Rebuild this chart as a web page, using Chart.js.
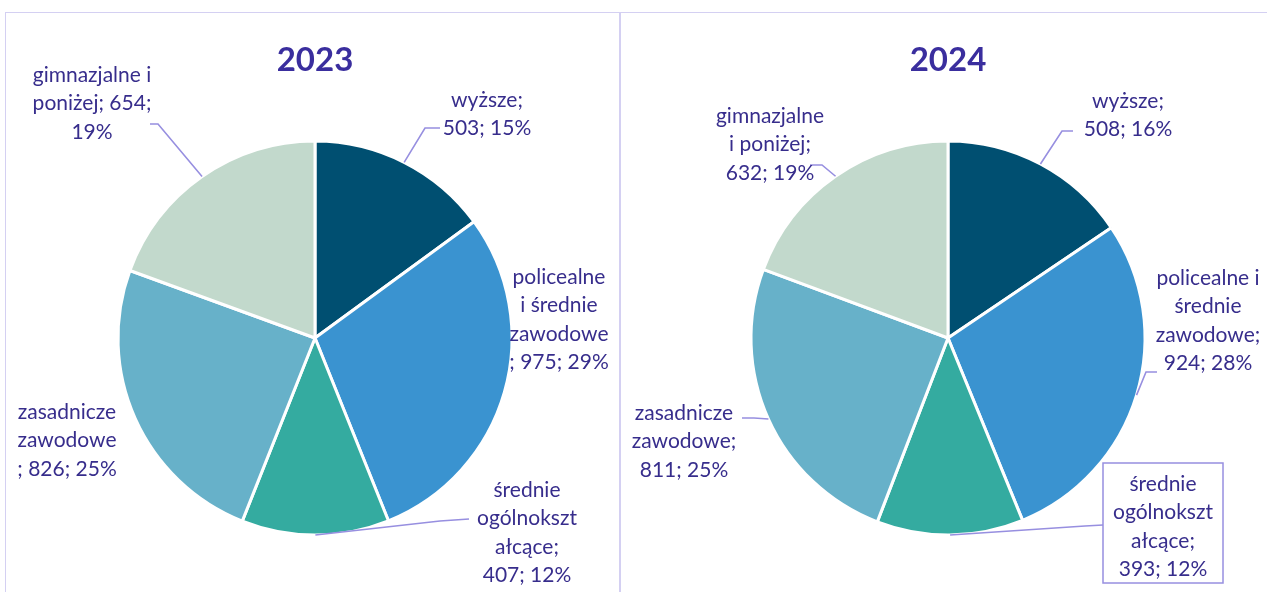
<!DOCTYPE html>
<html>
<head>
<meta charset="utf-8">
<script src="https://cdn.jsdelivr.net/npm/chart.js@4"></script>
<style>
  html, body { margin: 0; padding: 0; background: #fff; width: 1267px; height: 592px; overflow: hidden; }
  .panel { position: absolute; top: 12px; border: 1.5px solid #d4d0f2; box-sizing: border-box; height: 640px; }
  #p1 { left: 5px; width: 616px; }
  #p2 { left: 619px; width: 700px; }
  canvas { position: absolute; }
</style>
</head>
<body>
<div class="panel" id="p1"></div>
<div class="panel" id="p2"></div>
<canvas id="c2023" width="612" height="578" style="left:7px;top:14px"></canvas>
<canvas id="c2024" width="646" height="578" style="left:621px;top:14px"></canvas>
<script>
// dane
const categories = ['wyższe', 'policealne i średnie zawodowe', 'średnie ogólnokształcące', 'zasadnicze zawodowe', 'gimnazjalne i poniżej'];
const values2023 = [503, 975, 407, 826, 654];
const values2024 = [508, 924, 393, 811, 632];
const colors = ['#004f71', '#3a93d0', '#34aba0', '#67b1c9', '#c2d9cc'];

const TEXT_COLOR = '#372d8c';
const LINE_COLOR = '#978fe0';
const FONT = 'Lato, "Open Sans", sans-serif';

// rozmieszczenie etykiet (wspolrzedne strony)
const labels2023 = [
    { cx: 487, y0: 100, lines: ['wyższe;', '{v}; {p}'], leader: [[440, 128], [425, 128]] },
    { cx: 559, y0: 277, lines: ['policealne', 'i średnie', 'zawodowe', '; {v}; {p}'], leader: null },
    { cx: 527, y0: 490, lines: ['średnie', 'ogólnokszt', 'ałcące;', '{v}; {p}'], leader: [[469, 519], [440, 521]] },
    { cx: 67, y0: 412, lines: ['zasadnicze', 'zawodowe', '; {v}; {p}'], leader: null },
    { cx: 92, y0: 75, lines: ['gimnazjalne i', 'poniżej; {v};', '{p}'], leader: [[150, 124], [158, 124]] }
];
const labels2024 = [
    { cx: 1128, y0: 101, lines: ['wyższe;', '{v}; {p}'], leader: [[1073, 131], [1062, 131]] },
    { cx: 1208, y0: 278, lines: ['policealne i', 'średnie', 'zawodowe;', '{v}; {p}'], leader: [[1157, 372], [1146, 372]] },
    { cx: 1163, y0: 484, lines: ['średnie', 'ogólnokszt', 'ałcące;', '{v}; {p}'], leader: [[1103, 525], [1085, 526]], box: [1103, 463, 1223, 583] },
    { cx: 684, y0: 413, lines: ['zasadnicze', 'zawodowe;', '{v}; {p}'], leader: [[742, 418], [754, 418]] },
    { cx: 770, y0: 116, lines: ['gimnazjalne', 'i poniżej;', '{v}; {p}'], leader: [[810, 165], [822, 165]] }
];

// plugin rysujacy tytul i etykiety
const labelPlugin = {
    id: 'pieLabels',
    afterDatasetsDraw(chart, args, opts) {
        const ctx = chart.ctx;
        const meta = chart.getDatasetMeta(0);
        const data = chart.data.datasets[0].data;
        const total = data.reduce((a, b) => a + b, 0);
        const ox = opts.offsetX, oy = opts.offsetY;

        ctx.save();
        // tytul
        ctx.fillStyle = '#3a2e9e';
        ctx.font = 'bold 33px ' + FONT;
        ctx.textAlign = 'center';
        ctx.textBaseline = 'middle';
        ctx.fillText(opts.title, meta.data[0].x, 60 - oy);

        opts.layout.forEach((lab, i) => {
            const arc = meta.data[i];
            const mid = (arc.startAngle + arc.endAngle) / 2;
            const r = arc.outerRadius;
            const ax = arc.x + Math.cos(mid) * r;
            const ay = arc.y + Math.sin(mid) * r;

            if (lab.leader) {
                ctx.strokeStyle = LINE_COLOR;
                ctx.lineWidth = 1.6;
                ctx.beginPath();
                ctx.moveTo(lab.leader[0][0] - ox, lab.leader[0][1] - oy);
                for (let k = 1; k < lab.leader.length; k++) {
                    ctx.lineTo(lab.leader[k][0] - ox, lab.leader[k][1] - oy);
                }
                ctx.lineTo(ax, ay);
                ctx.stroke();
            }
            if (lab.box) {
                const b = lab.box;
                ctx.fillStyle = '#fff';
                ctx.fillRect(b[0] - ox, b[1] - oy, b[2] - b[0], b[3] - b[1]);
                ctx.strokeStyle = LINE_COLOR;
                ctx.lineWidth = 1.5;
                ctx.strokeRect(b[0] - ox, b[1] - oy, b[2] - b[0], b[3] - b[1]);
            }

            const pct = Math.round(data[i] / total * 100) + '%';
            ctx.fillStyle = TEXT_COLOR;
            ctx.font = '21px ' + FONT;
            lab.lines.forEach((ln, j) => {
                const txt = ln.replace('{v}', data[i]).replace('{p}', pct);
                ctx.fillText(txt, lab.cx - ox, lab.y0 + j * 28.5 - oy);
            });
        });
        ctx.restore();
    }
};

function makePie(id, values, title, layout, offsetX, offsetY, padding) {
    return new Chart(document.getElementById(id), {
        type: 'pie',
        data: {
            labels: categories,
            datasets: [{
                data: values,
                backgroundColor: colors,
                borderColor: '#ffffff',
                borderWidth: 3,
                radius: 197
            }]
        },
        options: {
            responsive: false,
            animation: false,
            layout: { padding: padding },
            plugins: {
                legend: { display: false },
                tooltip: { enabled: false },
                title: { display: false },
                pieLabels: { title: title, layout: layout, offsetX: offsetX, offsetY: offsetY }
            }
        },
        plugins: [labelPlugin]
    });
}

makePie('c2023', values2023, '2023', labels2023, 7, 14, { left: 110, right: 106, top: 126, bottom: 56 });
makePie('c2024', values2024, '2024', labels2024, 621, 14, { left: 129, right: 121, top: 126, bottom: 56 });
</script>
</body>
</html>
